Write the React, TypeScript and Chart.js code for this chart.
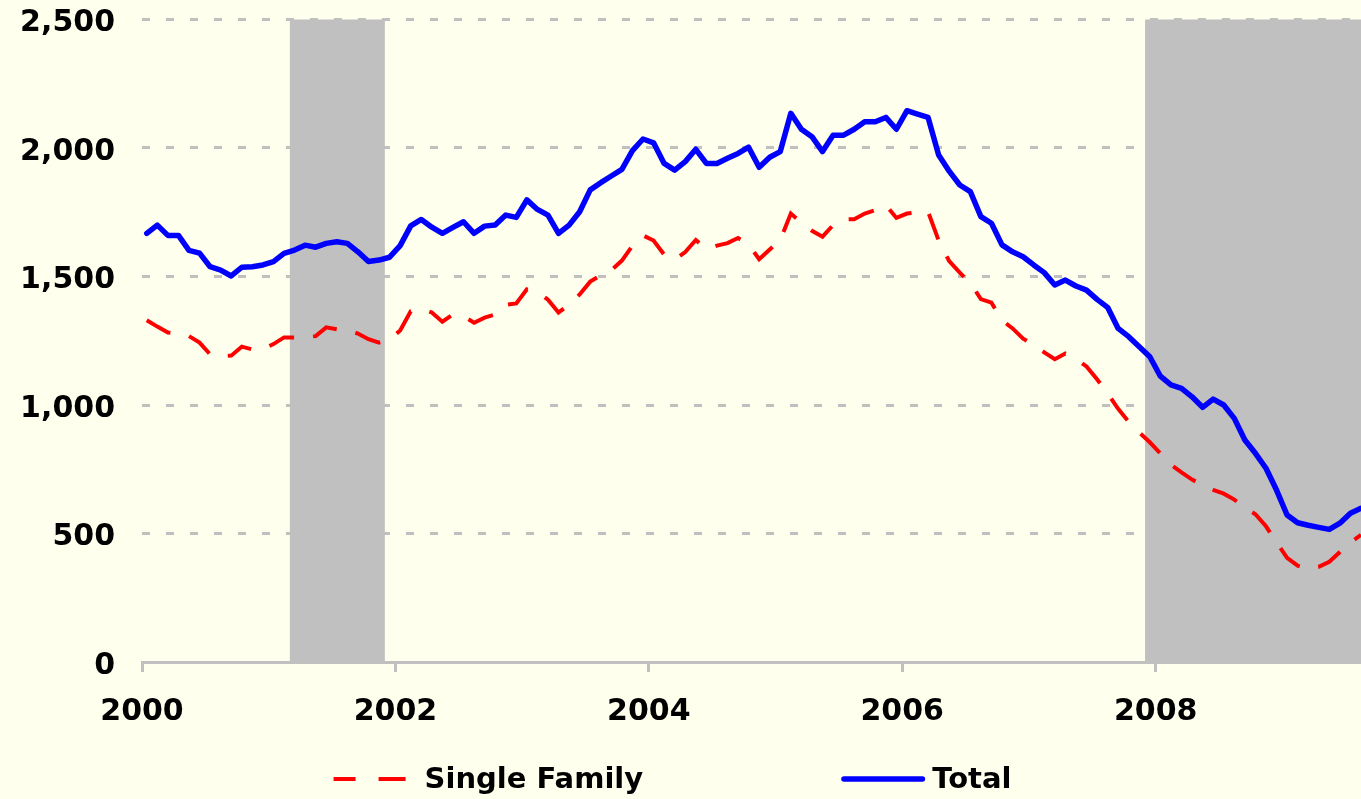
import React, { useEffect, useRef } from 'react';
import { Chart, registerables } from 'chart.js';

Chart.register(...registerables);

// Months since January 2000 (0 = Jan 2000); points sit slightly inside each month
const pointOffset = 0.45;

// Housing starts, thousands of units (SAAR), Jan 2000 - Aug 2009
const totalStarts = [
  1668, 1700, 1660, 1660, 1602, 1591, 1538, 1525, 1502, 1536,
  1538, 1545, 1558, 1590, 1603, 1622, 1614, 1629, 1635, 1629,
  1596, 1558, 1564, 1575, 1620, 1697, 1722, 1692, 1668, 1691,
  1713, 1668, 1696, 1700, 1739, 1730, 1798, 1761, 1739, 1668,
  1700, 1752, 1837, 1865, 1891, 1917, 1990, 2035, 2020, 1940,
  1914, 1947, 1995, 1940, 1940, 1960, 1979, 2003, 1925, 1964,
  1986, 2135, 2073, 2044, 1986, 2050, 2050, 2073, 2102, 2102,
  2119, 2073, 2145, 2132, 2119, 1973, 1910, 1856, 1830, 1733,
  1707, 1623, 1596, 1577, 1545, 1515, 1467, 1486, 1463, 1447,
  1411, 1380, 1298, 1266, 1227, 1188, 1112, 1078, 1065, 1032,
  991, 1023, 1000, 948, 864, 812, 754, 669, 572, 542,
  532, 524, 516, 540, 579, 598,
];

const singleFamilyStarts = [
  1330, 1305, 1282, 1278, 1268, 1243, 1197, 1190, 1192, 1227,
  1216, 1218, 1237, 1263, 1263, 1264, 1268, 1302, 1295, 1290,
  1278, 1256, 1243, 1255, 1290, 1365, 1375, 1360, 1324, 1352,
  1345, 1320, 1340, 1352, 1390, 1395, 1450, 1440, 1410, 1360,
  1390, 1430, 1480, 1505, 1525, 1562, 1620, 1660, 1640, 1585,
  1565, 1595, 1642, 1607, 1620, 1630, 1650, 1625, 1567, 1605,
  1642, 1745, 1710, 1678, 1655, 1700, 1723, 1723, 1745, 1758,
  1778, 1728, 1745, 1750, 1752, 1640, 1560, 1515, 1475, 1412,
  1398, 1330, 1298, 1258, 1235, 1205, 1178, 1200, 1180, 1150,
  1100, 1045, 985, 935, 893, 855, 812, 768, 738, 710,
  688, 670, 655, 632, 600, 575, 528, 465, 405, 375,
  362, 370, 390, 428, 465, 495,
];

const seriesLabels = ['Single Family', 'Total'];

const xTickMonths = [0, 24, 48, 72, 96];
const xTickLabels = ['2000', '2002', '2004', '2006', '2008'];
const xMaxMonth = 115.45;

const yTickValues = [0, 500, 1000, 1500, 2000, 2500];
const yTickLabels = ['0', '500', '1,000', '1,500', '2,000', '2,500'];

// Recessions (months since Jan 2000)
const recessionStarts = [14, 95];
const recessionEnds = [23, 115.45];

const BG = '#FFFFEE';
const GREY = '#C0C0C0';

const backgroundPlugin = {
  id: 'pageBackground',
  beforeDraw(chart: any) {
    const { ctx, width, height } = chart;
    ctx.save();
    ctx.fillStyle = BG;
    ctx.fillRect(0, 0, width, height);
    ctx.restore();
  },
};

const recessionPlugin = {
  id: 'recessionBands',
  beforeDatasetsDraw(chart: any) {
    const { ctx, chartArea, scales } = chart;
    const xs = scales.x;
    ctx.save();
    ctx.fillStyle = GREY;
    recessionStarts.forEach((s, i) => {
      const x1 = xs.getPixelForValue(s);
      const x2 = xs.getPixelForValue(Math.min(recessionEnds[i], xs.max));
      ctx.fillRect(x1, chartArea.top, x2 - x1, chartArea.bottom - chartArea.top);
    });
    ctx.restore();
  },
};

const legendPlugin = {
  id: 'bottomLegend',
  afterDraw(chart: any) {
    const ctx = chart.ctx;
    ctx.save();
    ctx.font = 'bold 29px "DejaVu Sans"';
    const keyW = 84;
    const textGap = 7;
    const itemGap = 198;
    const items = chart.data.datasets.map((ds: any) => ({
      text: ds.label,
      color: ds.borderColor,
      lw: ds.borderWidth,
      dash: ds.legendDash || [],
    }));
    const widths = items.map((it: any) => keyW + textGap + ctx.measureText(it.text).width);
    const total = widths.reduce((a: number, b: number) => a + b, 0) + itemGap * (items.length - 1);
    let x = (chart.width - total) / 2 - 8;
    const lineY = 779;
    const baseY = 788;
    items.forEach((it: any, i: number) => {
      ctx.beginPath();
      ctx.strokeStyle = it.color;
      ctx.lineWidth = it.lw;
      ctx.setLineDash(it.dash);
      const dashed = it.dash.length > 0;
      ctx.lineCap = dashed ? 'butt' : 'round';
      const inset = dashed ? 0 : it.lw / 2;
      ctx.moveTo(x + inset, lineY);
      ctx.lineTo(x + keyW - inset, lineY);
      ctx.stroke();
      ctx.setLineDash([]);
      ctx.fillStyle = '#000000';
      ctx.textAlign = 'left';
      ctx.textBaseline = 'alphabetic';
      ctx.fillText(it.text, x + keyW + textGap, baseY);
      x += widths[i] + itemGap;
    });
    ctx.restore();
  },
};

export default function App() {
  const canvasRef = useRef<HTMLCanvasElement | null>(null);

  useEffect(() => {
    document.body.style.margin = '0';
    const canvas = canvasRef.current;
    if (!canvas) return;
    Chart.defaults.font.family = '"DejaVu Sans", sans-serif';

    const chart = new Chart(canvas, {
      type: 'line',
      data: {
        datasets: [
          {
            label: seriesLabels[0],
            data: singleFamilyStarts.map((v, i) => ({ x: i + pointOffset, y: v })),
            borderColor: '#FF0000',
            borderWidth: 4,
            borderDash: [27, 19],
            borderCapStyle: 'butt',
            pointRadius: 0,
            tension: 0,
            fill: false,
            legendDash: [22, 23, 27, 200],
          } as any,
          {
            label: seriesLabels[1],
            data: totalStarts.map((v, i) => ({ x: i + pointOffset, y: v })),
            borderColor: '#0000FF',
            borderWidth: 5.5,
            borderJoinStyle: 'round',
            borderCapStyle: 'round',
            pointRadius: 0,
            tension: 0,
            fill: false,
          } as any,
        ],
      },
      options: {
        responsive: false,
        animation: false,
        events: [],
        layout: { padding: { top: 19.5, left: 0, right: 0, bottom: 0 } },
        plugins: {
          legend: { display: false },
          tooltip: { enabled: false },
        },
        scales: {
          x: {
            type: 'linear',
            min: 0,
            max: xMaxMonth,
            afterBuildTicks: (s: any) => {
              s.ticks = xTickMonths.map((v) => ({ value: v }));
            },
            afterFit: (s: any) => {
              s.height = 137;
              s.paddingLeft = 0;
              s.paddingRight = 0;
            },
            ticks: {
              callback: (_v: any, idx: number) => xTickLabels[idx],
              font: { size: 30, weight: 'bold' },
              color: '#000000',
              padding: 22,
              maxRotation: 0,
              autoSkip: false,
            },
            grid: {
              display: true,
              drawOnChartArea: false,
              drawTicks: true,
              tickLength: 10,
              color: GREY,
              lineWidth: 3,
            },
            border: { display: true, color: GREY, width: 3 },
          },
          y: {
            type: 'linear',
            min: 0,
            max: 2500,
            afterBuildTicks: (s: any) => {
              s.ticks = yTickValues.map((v) => ({ value: v }));
            },
            afterFit: (s: any) => {
              s.width = 142;
              s.paddingTop = 0;
              s.paddingBottom = 0;
            },
            ticks: {
              callback: (_v: any, idx: number) => yTickLabels[idx],
              font: { size: 30, weight: 'bold' },
              color: '#000000',
              padding: 27,
              labelOffset: 4,
            },
            grid: { color: GREY, lineWidth: 3, drawTicks: false },
            border: { display: false, dash: [8, 16] },
          },
        },
      } as any,
      plugins: [backgroundPlugin, recessionPlugin, legendPlugin],
    });
    return () => chart.destroy();
  }, []);

  return (
    <div style={{ width: 1361, height: 799 }}>
      <canvas ref={canvasRef} width={1361} height={799} style={{ display: 'block' }} />
    </div>
  );
}
